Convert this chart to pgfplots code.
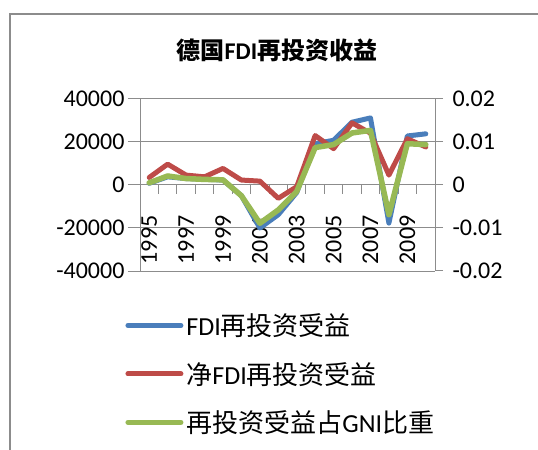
\documentclass[border=0pt]{standalone}
\usepackage{pgfplots}
\pgfplotsset{compat=1.18}
\usepackage{fontspec}
\setmainfont{Carlito}
\newfontfamily\cjk{Noto Sans CJK SC}
\definecolor{sblue}{HTML}{4A7EBB}
\definecolor{sred}{HTML}{BE4B48}
\definecolor{sgreen}{HTML}{98B954}
\definecolor{axgray}{HTML}{8C8C8C}
\begin{document}
\begin{tikzpicture}
\path[use as bounding box] (0,0) rectangle (538bp,450bp);
\draw[axgray, line width=1.2bp] (10bp,-5bp) -- (10bp,436bp) -- (545bp,436bp);
\node[font=\fontsize{24bp}{28bp}\selectfont\bfseries] at (277bp,400bp) {{\cjk 德国}FDI{\cjk 再投资收益}};
\begin{axis}[
  at={(140bp,179bp)}, anchor=south west,
  width=295bp, height=172bp, scale only axis,
  xmin=-0.5, xmax=15.5, ymin=-40000, ymax=40000,
  axis x line=middle, axis y line=left,
  axis line style={-, axgray, line width=1bp},
  hide obscured x ticks=false, hide obscured y ticks=false,
  scaled y ticks=false,
  ytick={-40000,-20000,0,20000,40000},
  yticklabels={-40000,-20000,0,20000,40000},
  ymajorgrids, grid style={axgray, line width=1bp},
  xtick={0,2,...,14},
  xticklabels={1995,1997,1999,2001,2003,2005,2007,2009},
  minor xtick={-0.5,0.5,...,15.5},
  major x tick style={draw=none},
  tick style={axgray, line width=1bp},
  xtick align=outside, ytick align=outside,
  major tick length=12bp, minor tick length=9bp,
  ticklabel style={font=\fontsize{24bp}{28bp}\selectfont},
  xticklabel style={rotate=90, anchor=east, xshift=-15bp},
  legend style={at={(-0.05,-0.23)}, anchor=north west, draw=none, fill=none,
    font=\fontsize{26bp}{30bp}\selectfont, row sep=19bp, inner sep=0pt,
    nodes={inner sep=3bp}},
  legend cell align=left,
  legend image code/.code={\draw[#1] (0bp,0bp) -- (53bp,0bp);},
]
\addplot[sblue, line width=5bp, line join=round, line cap=round] coordinates {
(0,800)(1,3800)(2,3000)(3,2700)(4,2300)(5,-5000)(6,-20000)(7,-13800)(8,-3500)(9,19200)(10,20800)(11,29200)(12,31200)(13,-17700)(14,22800)(15,23800)};
\addlegendentry{FDI{\cjk 再投资受益}}
\addplot[sred, line width=5bp, line join=round, line cap=round] coordinates {
(0,3500)(1,9700)(2,4600)(3,3800)(4,7700)(5,2300)(6,1800)(7,-6200)(8,-800)(9,23000)(10,16900)(11,28900)(12,24100)(13,4600)(14,21500)(15,17700)};
\addlegendentry{{\cjk 净}FDI{\cjk 再投资受益}}
\addlegendimage{sgreen, line width=5bp, line cap=round}
\addlegendentry{{\cjk 再投资受益占}GNI{\cjk 比重}}
\end{axis}
\begin{axis}[
  at={(140bp,179bp)}, anchor=south west,
  width=295bp, height=172bp, scale only axis,
  xmin=-0.5, xmax=15.5, ymin=-0.02, ymax=0.02,
  axis y line=right, axis x line=none,
  axis line style={-, axgray, line width=1bp},
  scaled y ticks=false,
  ytick={-0.02,-0.01,0,0.01,0.02},
  yticklabels={-0.02,-0.01,0,0.01,0.02},
  tick style={axgray, line width=1bp},
  ytick align=outside, major tick length=8bp,
  ticklabel style={font=\fontsize{24bp}{28bp}\selectfont},
  yticklabel style={xshift=6bp},
]
\addplot[sgreen, line width=5.5bp, line join=round, line cap=round] coordinates {
(0,0.0005)(1,0.0021)(2,0.0015)(3,0.0013)(4,0.0012)(5,-0.0025)(6,-0.0089)(7,-0.0058)(8,-0.0015)(9,0.0087)(10,0.0094)(11,0.0121)(12,0.0127)(13,-0.0069)(14,0.0096)(15,0.0094)};
\end{axis}
\end{tikzpicture}
\end{document}
